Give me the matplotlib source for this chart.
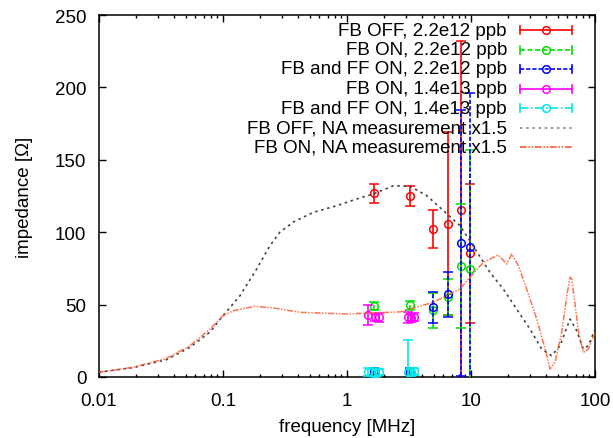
import numpy as np
import matplotlib
matplotlib.use("Agg")
import matplotlib.pyplot as plt
from matplotlib.lines import Line2D

plt.rcParams['font.family'] = ['Liberation Sans', 'DejaVu Sans']

# ---- data ----
freq_22 = [1.64, 3.25, 4.94, 6.5, 8.26, 9.8]
fb_off_22 = [127, 125, 102, 106, 115, 85.5]
fb_off_22_err = [6.5, 7, 13, 63, 117, 48]
fb_on_22 = [49, 49.5, 46, 55, 76.5, 74.5]
fb_on_22_err = [3, 3, 12, 12.5, 43, 82]
fbff_on_22 = [4, 4, 48, 57, 92.5, 90]
fbff_on_22_err = [2.5, 2, 10.5, 15.5, 92, 106]

freq_14 = [1.48, 1.68, 1.82, 3.1, 3.28, 3.45]
fb_on_14 = [43, 41.2, 41.2, 41.2, 40.7, 41.5]
fb_on_14_err = [7, 2.5, 3, 4, 3, 3]
fbff_on_14 = [3.5, 3, 3.5, 3.5, 3.5, 4]
fbff_on_14_err = [2.5, 3, 2, 22, 2.5, 2.5]

na_off_f = [0.01, 0.0189, 0.0351, 0.0541, 0.0784, 0.1, 0.137, 0.187, 0.239, 0.287,
            0.369, 0.535, 0.826, 1.2, 1.63, 2.37, 3.23, 4.4, 5.6, 8.15, 9.8, 14.2,
            18.2, 23.3, 29.9, 37.2, 44.7, 52.2, 62.9, 71.1, 80.5, 88.3, 100]
na_off_z = [3.3, 6.5, 12, 20.5, 31, 42.3, 56.1, 74.6, 90.7, 99.9,
            107, 113.7, 118.3, 123, 126.4, 132.1, 131.7, 125.2, 117.2, 104.5, 94.1, 72.3,
            60.8, 47, 33.1, 19.3, 14.7, 21.6, 40, 32, 19.3, 21.6, 33]

na_on_f = [0.01, 0.0189, 0.0351, 0.0541, 0.0784, 0.1, 0.121, 0.18, 0.25, 0.417, 1.0,
           2.7, 4.97, 8.15, 9.8, 12.6, 16.6, 19.4, 21.3, 24.1, 28.1, 33.9, 39.6,
           43.4, 47.6, 53.9, 59.2, 62.9, 64.9, 69.2, 73.8, 80.5, 88.3, 100]
na_on_z = [3.3, 6.7, 12.9, 21.6, 33, 42.3, 45.8, 48.8, 47.8, 44.7, 43.5,
           45, 51.6, 60.8, 68.9, 79.2, 84.3, 78, 85, 76.9, 60.8, 40, 19.3,
           5.5, 10.2, 30.8, 56.1, 68.9, 67.7, 49.2, 30.8, 17, 19.3, 30.8]

labels = ["FB OFF, 2.2e12 ppb", "FB ON, 2.2e12 ppb", "FB and FF ON, 2.2e12 ppb",
          "FB ON, 1.4e13 ppb", "FB and FF ON, 1.4e13 ppb",
          "FB OFF, NA measurement x1.5", "FB ON, NA measurement x1.5"]

# ---- figure ----
fig = plt.figure(figsize=(6.13, 4.39), dpi=100)
ax = fig.add_axes([99/613, (439-378)/439, 496/613, 362/439])

fs = 13.5
series = [
    (freq_22, fb_off_22, fb_off_22_err, '#ff0000', '-'),
    (freq_22, fb_on_22, fb_on_22_err, '#00e000', (0, (3, 1.5))),
    (freq_22, fbff_on_22, fbff_on_22_err, '#0000ff', (0, (2.5, 1.2))),
    (freq_14, fb_on_14, fb_on_14_err, '#ff00ff', '-'),
    (freq_14, fbff_on_14, fbff_on_14_err, '#00e8e8', '-'),
]
for i, (x, y, e, c, ls) in enumerate(series):
    l, caps, bars = ax.errorbar(x, y, yerr=e, fmt='o', color=c, mfc='none', mec=c,
                                ms=5.5, mew=1.1, elinewidth=1.2, capsize=3.5,
                                capthick=1.2, zorder=3 + i)
    bars[0].set_linestyle(ls)

ax.plot(na_off_f, na_off_z, color='#444444', lw=1.2, dashes=(1.5, 2.2), zorder=9)
ax.plot(na_on_f, na_on_z, color='#ff5a30', lw=1.1, alpha=0.85,
        dashes=(4, 1, 1, 1, 1, 1), zorder=10)

ax.set_xscale('log')
ax.set_xlim(0.01, 100)
ax.set_ylim(0, 250)
ax.set_yticks([0, 50, 100, 150, 200, 250])
ax.set_xticks([0.01, 0.1, 1, 10, 100])
ax.set_xticklabels(['0.01', '0.1', '1', '10', '100'])
ax.tick_params(which='both', direction='in', top=True, right=True, labelsize=fs,
               colors='black')
ax.tick_params(which='major', length=5, width=1)
ax.tick_params(which='minor', length=2.5, width=1)
ax.tick_params(axis='x', pad=11)
ax.tick_params(axis='y', pad=9)
for s in ax.spines.values():
    s.set_linewidth(1.1)

ax.set_xlabel('frequency [MHz]', fontsize=fs, labelpad=6)
ax.set_ylabel('impedance [Ω]', fontsize=fs, labelpad=16)

# ---- gnuplot-style key ----
def ax_frac(px_x, px_y):
    return ((px_x - 99) / 496, (378 - px_y) / 362)

styles = [
    ('#ff0000', '-', True),
    ('#00e000', (0, (3, 1.5)), True),
    ('#0000ff', (0, (2.5, 1.2)), True),
    ('#ff00ff', '-', True),
    ('#00e8e8', (0, (5, 1.5, 1, 1.5)), True),
    ('#888888', (0, (1.5, 2.2)), False),
    ('#ff5a30', (0, (4, 1, 1, 1, 1, 1)), False),
]
for i, (lab, (c, ls, eb)) in enumerate(zip(labels, styles)):
    yp = 31 + 19.5 * i
    tx, ty = ax_frac(507, yp)
    ax.text(tx, ty, lab, transform=ax.transAxes, ha='right', va='center',
            fontsize=fs, zorder=20)
    x0, _ = ax_frac(520, yp)
    x1, _ = ax_frac(572, yp)
    xm, _ = ax_frac(546, yp)
    ax.add_line(Line2D([x0, x1], [ty, ty], transform=ax.transAxes, color=c,
                       linestyle=ls, lw=1.2, zorder=20, clip_on=False))
    if eb:
        dy = 4 / 362
        for xx in (x0, x1):
            ax.add_line(Line2D([xx, xx], [ty - dy, ty + dy], transform=ax.transAxes,
                               color=c, lw=1.2, zorder=20, clip_on=False))
        ax.add_line(Line2D([xm], [ty], transform=ax.transAxes, marker='o', mfc='none',
                           mec=c, ms=5.5, mew=1.1, zorder=21, clip_on=False))

fig.savefig('out.png', dpi=100)
